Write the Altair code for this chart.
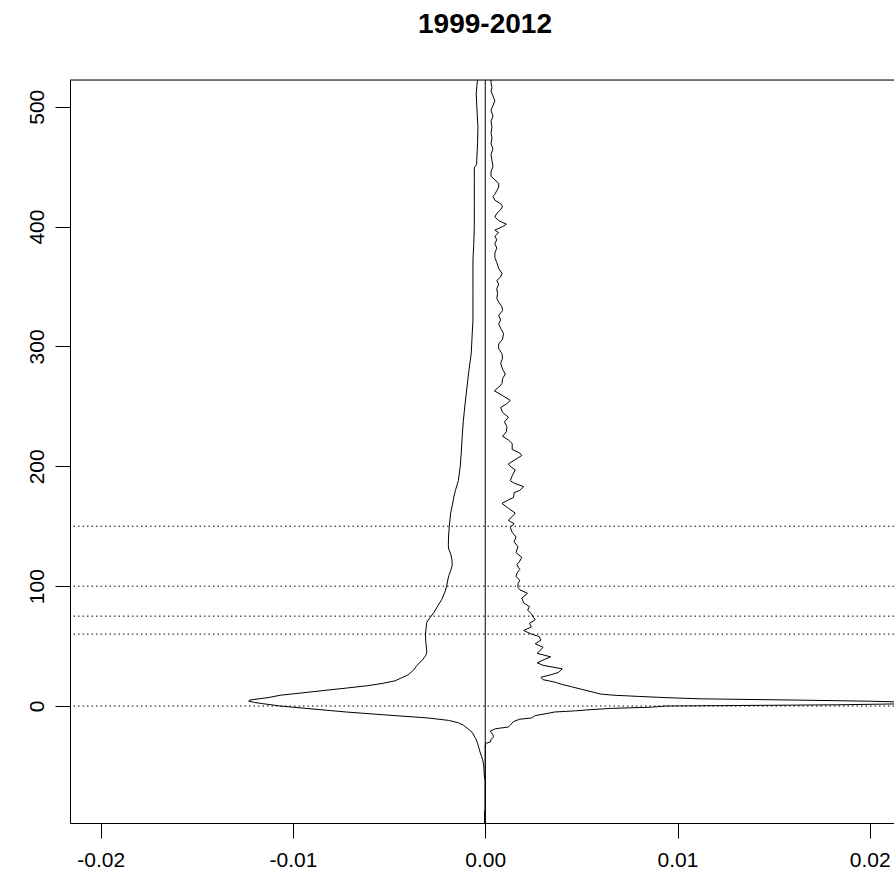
import altair as alt
import pandas as pd

TITLE = "1999-2012"
X_TICKS = [-0.02, -0.01, 0.0, 0.01, 0.02]
Y_TICKS = [0, 100, 200, 300, 400, 500]
REF_LAGS = [0, 60, 75, 100, 150]

LEFT_LAG = [-98, -88, -86, -62, -60, -55, -50, -45, -39, -34, -31, -27, -22, -19, -16, -14, -12, -10,
            -8, -6, -5, -3, -2, 0, 2, 3, 4, 5, 7, 9, 11, 13, 15, 17, 19, 21, 23, 26, 30, 34, 38, 42,
            45, 50, 55, 60, 66, 70, 74, 78, 84, 89, 95, 100, 105, 109, 113, 117, 122, 127, 131, 134,
            141, 150, 161, 167, 174, 180, 188, 200, 211, 225, 238, 252, 266, 280, 294, 310, 322, 344,
            372, 385, 400, 420, 440, 449, 452, 470, 483, 497, 511, 523]
LEFT_VAL = [-0.00004, -0.00004, 0.0, 0.0, -0.00004, -0.00006, -0.00008, -0.00013, -0.00026, -0.00035,
            -0.00040, -0.00050, -0.00068, -0.00090, -0.00114, -0.00140, -0.00190, -0.00296, -0.00470,
            -0.00640, -0.00723, -0.00860, -0.00931, -0.01066, -0.01160, -0.01200, -0.01230, -0.01225,
            -0.01130, -0.01066, -0.00950, -0.00837, -0.00720, -0.00610, -0.00530, -0.00470, -0.00442,
            -0.00401, -0.00373, -0.00355, -0.00329, -0.00310, -0.00304, -0.00307, -0.00310, -0.00311,
            -0.00307, -0.00304, -0.00286, -0.00267, -0.00245, -0.00226, -0.00210, -0.00201, -0.00195,
            -0.00189, -0.00180, -0.00172, -0.00173, -0.00180, -0.00190, -0.00192, -0.00191, -0.00187,
            -0.00180, -0.00172, -0.00164, -0.00155, -0.00140, -0.00130, -0.00125, -0.00120, -0.00114,
            -0.00105, -0.00095, -0.00085, -0.00073, -0.00068, -0.00064, -0.00064, -0.00064, -0.00060,
            -0.00057, -0.00057, -0.00057, -0.00057, -0.00045, -0.00040, -0.00038, -0.00043, -0.00047,
            -0.00040]

RIGHT_LAG = [-98, -33, -31, -30, -28, -26, -24, -21, -19, -17.5, -16, -13, -11, -10, -8, -6, -5, -4,
             -3, -2, -1, 0, 1, 2, 3, 4, 5, 6, 7, 8, 9, 10, 12, 14, 16, 18, 20, 22, 24, 26, 28, 31, 34,
             36, 39, 41, 44, 47, 49, 52, 55, 58, 60, 63, 66, 69, 72, 74, 77, 80, 83, 86, 90, 94, 97,
             99, 102, 105, 108, 111, 114, 116, 118, 121, 124, 128, 133, 137, 141, 145, 149, 152, 155,
             158, 161, 165, 169, 172, 174, 178, 180, 183, 186, 188, 192, 197, 200, 202, 206, 209, 211,
             214, 219, 222, 225, 229, 233, 237, 241, 245, 249, 252, 255, 259, 263, 266, 269, 273, 277,
             281, 286, 290, 294, 298, 302, 306, 311, 315, 319, 322, 326, 330, 333, 337, 340, 344, 348,
             352, 355, 358, 361, 365, 370, 374, 378, 382, 386, 389, 392, 395, 397, 400, 402, 405, 408,
             411, 414, 417, 419, 422, 425, 427, 430, 433, 436, 439, 442, 446, 450, 455, 460, 465, 469,
             474, 478, 483, 488, 492, 497, 501, 505, 509, 513, 516, 520, 523]
RIGHT_VAL = [0.0, 0.0, 0.00005, 0.00026, 0.00030, 0.00042, 0.00040, 0.00026, 0.00052, 0.00120,
             0.00130, 0.00146, 0.00180, 0.00240, 0.00260, 0.00330, 0.00360, 0.00470, 0.00550, 0.00650,
             0.00860, 0.00940, 0.01820, 0.02250, 0.02250, 0.02000, 0.01600, 0.01120, 0.00940, 0.00800,
             0.00670, 0.00600, 0.00550, 0.00500, 0.00450, 0.00400, 0.00360, 0.00300, 0.00290, 0.00340,
             0.00380, 0.00400, 0.00300, 0.00270, 0.00310, 0.00340, 0.00270, 0.00290, 0.00300, 0.00260,
             0.00290, 0.00280, 0.00240, 0.00200, 0.00240, 0.00230, 0.00260, 0.00250, 0.00240, 0.00220,
             0.00230, 0.00200, 0.00190, 0.00220, 0.00180, 0.00170, 0.00170, 0.00180, 0.00160, 0.00165,
             0.00180, 0.00170, 0.00165, 0.00180, 0.00190, 0.00160, 0.00170, 0.00150, 0.00160, 0.00140,
             0.00130, 0.00150, 0.00120, 0.00140, 0.00156, 0.00120, 0.00087, 0.00120, 0.00147, 0.00150,
             0.00180, 0.00200, 0.00150, 0.00130, 0.00140, 0.00156, 0.00130, 0.00120, 0.00160, 0.00190,
             0.00180, 0.00140, 0.00140, 0.00120, 0.00090, 0.00110, 0.00113, 0.00100, 0.00120, 0.00090,
             0.00080, 0.00110, 0.00130, 0.00090, 0.00047, 0.00070, 0.00087, 0.00090, 0.00104, 0.00090,
             0.00080, 0.00090, 0.00087, 0.00070, 0.00070, 0.00090, 0.00095, 0.00080, 0.00070, 0.00080,
             0.00070, 0.00090, 0.00087, 0.00070, 0.00060, 0.00064, 0.00060, 0.00070, 0.00060, 0.00080,
             0.00087, 0.00070, 0.00060, 0.00050, 0.00050, 0.00060, 0.00050, 0.00060, 0.00050, 0.00070,
             0.00050, 0.00090, 0.00110, 0.00070, 0.00050, 0.00060, 0.00080, 0.00090, 0.00080, 0.00050,
             0.00040, 0.00050, 0.00060, 0.00070, 0.00070, 0.00050, 0.00030, 0.00030, 0.00040, 0.00035,
             0.00030, 0.00040, 0.00030, 0.00035, 0.00030, 0.00035, 0.00030, 0.00040, 0.00030, 0.00040,
             0.00050, 0.00040, 0.00030, 0.00035, 0.00030, 0.00030]

W, H = 824, 743
FONT = "Liberation Sans"

xs = alt.Scale(domain=[-0.0216, 0.021261], nice=False, zero=False)
ys = alt.Scale(domain=[-97.6, 522.3], nice=False, zero=False)

x_axis = alt.Axis(values=X_TICKS, grid=False, title=None, tickSize=15, labelPadding=11,
                  labelFontSize=21, labelFont=FONT, labelColor="black", tickColor="black",
                  domainColor="black", labelFlush=False, labelOverlap=False,
                  labelExpr="datum.value < -1e-9 ? '-' + format(-datum.value, '.2f') : format(abs(datum.value), '.2f')")
y_axis = alt.Axis(values=Y_TICKS, grid=False, title=None, tickSize=15, labelPadding=8,
                  labelFontSize=21, labelFont=FONT, labelColor="black", tickColor="black",
                  domainColor="black", labelAngle=270, labelAlign="center", labelBaseline="bottom",
                  labelFlush=False, labelOverlap=False, format="d")

df = pd.concat([
    pd.DataFrame({"lag": LEFT_LAG, "value": LEFT_VAL, "series": "left"}),
    pd.DataFrame({"lag": RIGHT_LAG, "value": RIGHT_VAL, "series": "right"}),
])

curves = alt.Chart(df).mark_line(color="black", strokeWidth=1, clip=True).encode(
    x=alt.X("value:Q", scale=xs, axis=x_axis, title=None),
    y=alt.Y("lag:Q", scale=ys, axis=y_axis, title=None),
    detail="series:N",
    order=alt.Order("lag:Q"),
)

refs = alt.Chart(pd.DataFrame({"lag": REF_LAGS})).mark_rule(
    color="black", strokeWidth=1, strokeDash=[1.5, 3]
).encode(y=alt.Y("lag:Q", scale=ys, axis=y_axis, title=None))

zero_line = alt.Chart(pd.DataFrame({"value": [0.0]})).mark_rule(color="black", strokeWidth=1).encode(
    x=alt.X("value:Q", scale=xs, axis=x_axis, title=None)
)

top_frame = alt.Chart(pd.DataFrame({"a": [0]})).mark_rule(color="black", strokeWidth=1).encode(
    x=alt.value(0), x2=alt.value(W), y=alt.value(0)
)

chart = alt.layer(refs, zero_line, curves, top_frame).properties(
    width=W, height=H,
    title=alt.TitleParams(TITLE, fontSize=28, font=FONT, fontWeight="bold", anchor="middle",
                          offset=41, color="black", dx=3),
    padding={"left": 70, "top": 80, "right": 0, "bottom": 57},
    autosize=alt.AutoSizeParams(type="none"),
).configure_view(stroke=None).configure(background="white")

chart.save("out.html", embed_options={"renderer": "svg", "actions": False})
